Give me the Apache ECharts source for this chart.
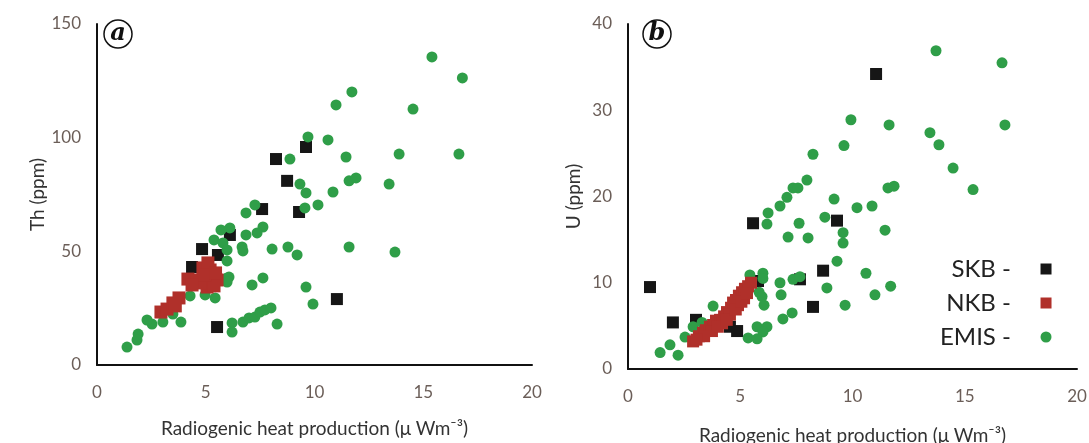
<!DOCTYPE html>
<html>
<head>
<meta charset="utf-8">
<script src="https://cdn.jsdelivr.net/npm/echarts@6/dist/echarts.min.js"></script>
<style>
html,body{margin:0;padding:0;background:#fff;}
#chart{width:1089px;height:443px;}
</style>
</head>
<body>
<div id="chart"></div>
<script>
// ---- tick values ----
var xTicks = [0, 5, 10, 15, 20];
var yTicksA = [0, 50, 100, 150];
var yTicksB = [0, 10, 20, 30, 40];

// ---- labels ----
var panelLabels = ['a', 'b'];
var seriesNames = ['SKB', 'NKB', 'EMIS'];
var xName = 'Radiogenic heat production (\u03bc Wm\u207b\u00b3)';
var yNameA = 'Th (ppm)';
var yNameB = 'U (ppm)';

// ---- panel a: Th (ppm) vs heat production ----
var skbA = [
  [7.59, 68.6], [8.23, 90.6], [9.61, 95.9], [8.74, 81.0], [9.29, 67.3],
  [6.11, 57.2], [4.83, 51.0], [5.56, 48.4], [4.37, 43.1], [11.03, 29.0],
  [5.52, 16.7]
];
var nkbA = [
  [2.94, 23.3], [3.22, 24.6], [3.49, 27.3], [3.77, 29.5], [4.18, 37.8],
  [4.60, 37.4], [4.87, 42.7], [5.20, 41.8], [5.33, 38.7], [5.06, 34.3],
  [4.74, 36.1], [5.52, 37.4], [5.10, 44.9], [4.37, 35.2], [5.38, 34.8],
  [3.60, 26.0], [4.95, 39.5], [5.45, 40.5]
];
var emisA = [
  [15.4, 135.5], [16.8, 126.3], [11.72, 120.1], [10.99, 114.4], [14.53, 112.6],
  [9.70, 100.3], [10.62, 99.0], [11.45, 91.5], [13.89, 92.8], [16.64, 92.8],
  [8.87, 90.6], [9.33, 79.6], [9.61, 75.7], [10.85, 76.1], [11.59, 81.0],
  [11.91, 82.3], [13.43, 79.6], [9.56, 69.1], [10.16, 70.4], [7.26, 70.4],
  [6.85, 66.9], [7.63, 60.7], [7.36, 58.1], [6.85, 57.2], [6.11, 60.3],
  [5.70, 59.4], [5.38, 55.0], [5.79, 53.7], [5.98, 50.6], [5.98, 45.8],
  [6.07, 38.7], [5.98, 38.3], [5.98, 36.5], [6.67, 51.9], [6.71, 50.2],
  [8.05, 51.0], [8.78, 51.9], [9.20, 48.4], [11.59, 51.9], [13.70, 49.7],
  [7.13, 35.2], [7.63, 38.3], [9.61, 34.3], [9.93, 26.8], [4.28, 30.4],
  [4.97, 30.8], [5.43, 29.5], [3.86, 18.9], [3.49, 22.4], [3.03, 18.9],
  [2.53, 18.0], [2.30, 19.8], [1.89, 13.6], [1.84, 11.0], [1.38, 7.9],
  [6.21, 18.5], [6.21, 14.5], [6.71, 18.9], [6.99, 20.7], [7.26, 21.1],
  [7.49, 23.3], [7.72, 24.2], [8.00, 25.1], [8.28, 18.0]
];

// ---- panel b: U (ppm) vs heat production ----
var skbB = [
  [11.05, 34.2], [9.31, 17.2], [5.57, 16.9], [8.69, 11.4], [7.66, 10.4],
  [5.79, 10.2], [8.24, 7.2], [0.98, 9.5], [2.00, 5.4], [3.03, 5.7],
  [4.54, 4.9], [4.86, 4.4]
];
var nkbB = [
  [2.90, 3.2], [3.16, 3.8], [3.34, 4.2], [3.47, 4.5], [3.65, 4.9],
  [3.79, 5.1], [3.92, 5.6], [4.10, 5.7], [4.28, 6.1], [4.41, 6.6],
  [4.59, 7.1], [4.68, 7.7], [4.81, 8.0], [4.94, 8.5], [5.08, 8.9],
  [5.21, 9.3], [5.35, 9.6], [5.48, 10.0], [5.17, 8.2], [4.90, 7.4],
  [4.54, 6.3], [4.19, 5.3], [3.74, 4.4], [3.39, 3.8], [3.05, 3.4],
  [4.00, 4.9], [4.40, 5.7], [4.80, 6.9], [5.05, 7.8], [5.30, 8.8]
];
var emisB = [
  [13.72, 36.9], [16.66, 35.5], [9.93, 28.9], [11.63, 28.3], [16.79, 28.3],
  [13.45, 27.4], [13.85, 26.0], [9.62, 25.9], [8.24, 24.9], [14.48, 23.3],
  [7.97, 21.9], [11.58, 21.0], [11.85, 21.2], [15.37, 20.8], [7.35, 21.0],
  [7.57, 21.0], [7.08, 19.9], [9.18, 19.7], [6.77, 18.9], [10.2, 18.7],
  [10.87, 18.9], [6.24, 18.1], [8.77, 17.6], [6.19, 16.8], [7.62, 16.9],
  [11.45, 16.1], [9.58, 15.8], [7.13, 15.3], [8.02, 15.2], [9.58, 14.6],
  [9.31, 12.5], [10.6, 11.1], [11.7, 9.6], [11.0, 8.6], [6.01, 11.1],
  [5.43, 10.9], [6.01, 10.5], [6.77, 10.0], [7.35, 10.4], [7.66, 10.7],
  [8.86, 9.4], [5.84, 8.9], [5.97, 8.4], [6.82, 8.6], [6.06, 7.4],
  [9.67, 7.4], [7.31, 6.5], [6.90, 5.8], [3.79, 7.3], [5.75, 4.9],
  [6.19, 4.9], [6.01, 4.3], [5.35, 3.6], [5.75, 3.5], [2.9, 4.9],
  [2.54, 3.7], [1.87, 2.8], [2.23, 1.6], [1.43, 1.9], [3.3, 5.4]
];

var FONT = 'Lato, "Open Sans", sans-serif';
var C_SKB = '#161616', C_NKB = '#b0302a', C_EMIS = '#2f9e48';

function xAxisDef(gi) {
  return {
    type: 'value', gridIndex: gi,
    min: xTicks[0], max: xTicks[xTicks.length - 1], interval: xTicks[1] - xTicks[0],
    name: xName, nameLocation: 'middle', nameGap: gi === 0 ? 54 : 57,
    nameTextStyle: { fontFamily: FONT, fontSize: 19, color: '#333' },
    axisLine: { show: true, lineStyle: { color: '#111', width: 2 } },
    axisTick: { show: false },
    splitLine: { show: false },
    axisLabel: { fontFamily: FONT, fontSize: 17, color: '#6b5e58', margin: 19 }
  };
}
function yAxisDef(gi, ticks, name, gap) {
  return {
    type: 'value', gridIndex: gi,
    min: ticks[0], max: ticks[ticks.length - 1], interval: ticks[1] - ticks[0],
    name: name, nameLocation: 'middle', nameGap: gap, nameRotate: 90,
    nameTextStyle: { fontFamily: FONT, fontSize: 19, color: '#333' },
    axisLine: { show: true, lineStyle: { color: '#111', width: 2 } },
    axisTick: { show: false },
    splitLine: { show: false },
    axisLabel: { fontFamily: FONT, fontSize: 17, color: '#6b5e58', margin: 16 }
  };
}
function sc(name, gi, data, symbol, size, color) {
  return {
    name: name, type: 'scatter', xAxisIndex: gi, yAxisIndex: gi,
    data: data, symbol: symbol, symbolSize: size,
    itemStyle: { color: color, opacity: 1 },
    emphasis: { disabled: true }, animation: false
  };
}

var chart = echarts.init(document.getElementById('chart'), null, { renderer: 'canvas' });
chart.setOption({
  backgroundColor: '#fff',
  animation: false,
  grid: [
    { left: 97, top: 24, width: 435, height: 341, containLabel: false, outerBoundsMode: 'none' },
    { left: 628, top: 24, width: 449, height: 345, containLabel: false, outerBoundsMode: 'none' }
  ],
  xAxis: [xAxisDef(0), xAxisDef(1)],
  yAxis: [yAxisDef(0, yTicksA, yNameA, 49), yAxisDef(1, yTicksB, yNameB, 45)],
  legend: {
    data: seriesNames,
    orient: 'vertical', left: 940, top: 257, padding: 0,
    align: 'right', itemGap: 10, itemWidth: 11, itemHeight: 11,
    formatter: function (n) { return n + ' -    '; },
    textStyle: { fontFamily: FONT, fontSize: 24, color: '#222' },
    selectedMode: false
  },
  series: [
    sc(seriesNames[0], 0, skbA, 'rect', 12, C_SKB),
    sc(seriesNames[2], 0, emisA, 'circle', 11, C_EMIS),
    sc(seriesNames[1], 0, nkbA, 'rect', 13, C_NKB),
    sc(seriesNames[0], 1, skbB, 'rect', 12, C_SKB),
    sc(seriesNames[2], 1, emisB, 'circle', 11, C_EMIS),
    sc(seriesNames[1], 1, nkbB, 'rect', 12, C_NKB)
  ],
  graphic: [
    { type: 'circle', shape: { cx: 118, cy: 34, r: 14 }, style: { fill: '#fff', stroke: '#111', lineWidth: 1.5 } },
    { type: 'text', x: 118, y: 34, style: { text: panelLabels[0], fontFamily: '"DejaVu Serif", serif', fontStyle: 'italic', fontWeight: 'bold', fontSize: 24, fill: '#111', align: 'center', verticalAlign: 'middle' } },
    { type: 'circle', shape: { cx: 657, cy: 34, r: 14 }, style: { fill: '#fff', stroke: '#111', lineWidth: 1.5 } },
    { type: 'text', x: 657, y: 34, style: { text: panelLabels[1], fontFamily: '"DejaVu Serif", serif', fontStyle: 'italic', fontWeight: 'bold', fontSize: 24, fill: '#111', align: 'center', verticalAlign: 'middle' } }
  ]
});
</script>
</body>
</html>
